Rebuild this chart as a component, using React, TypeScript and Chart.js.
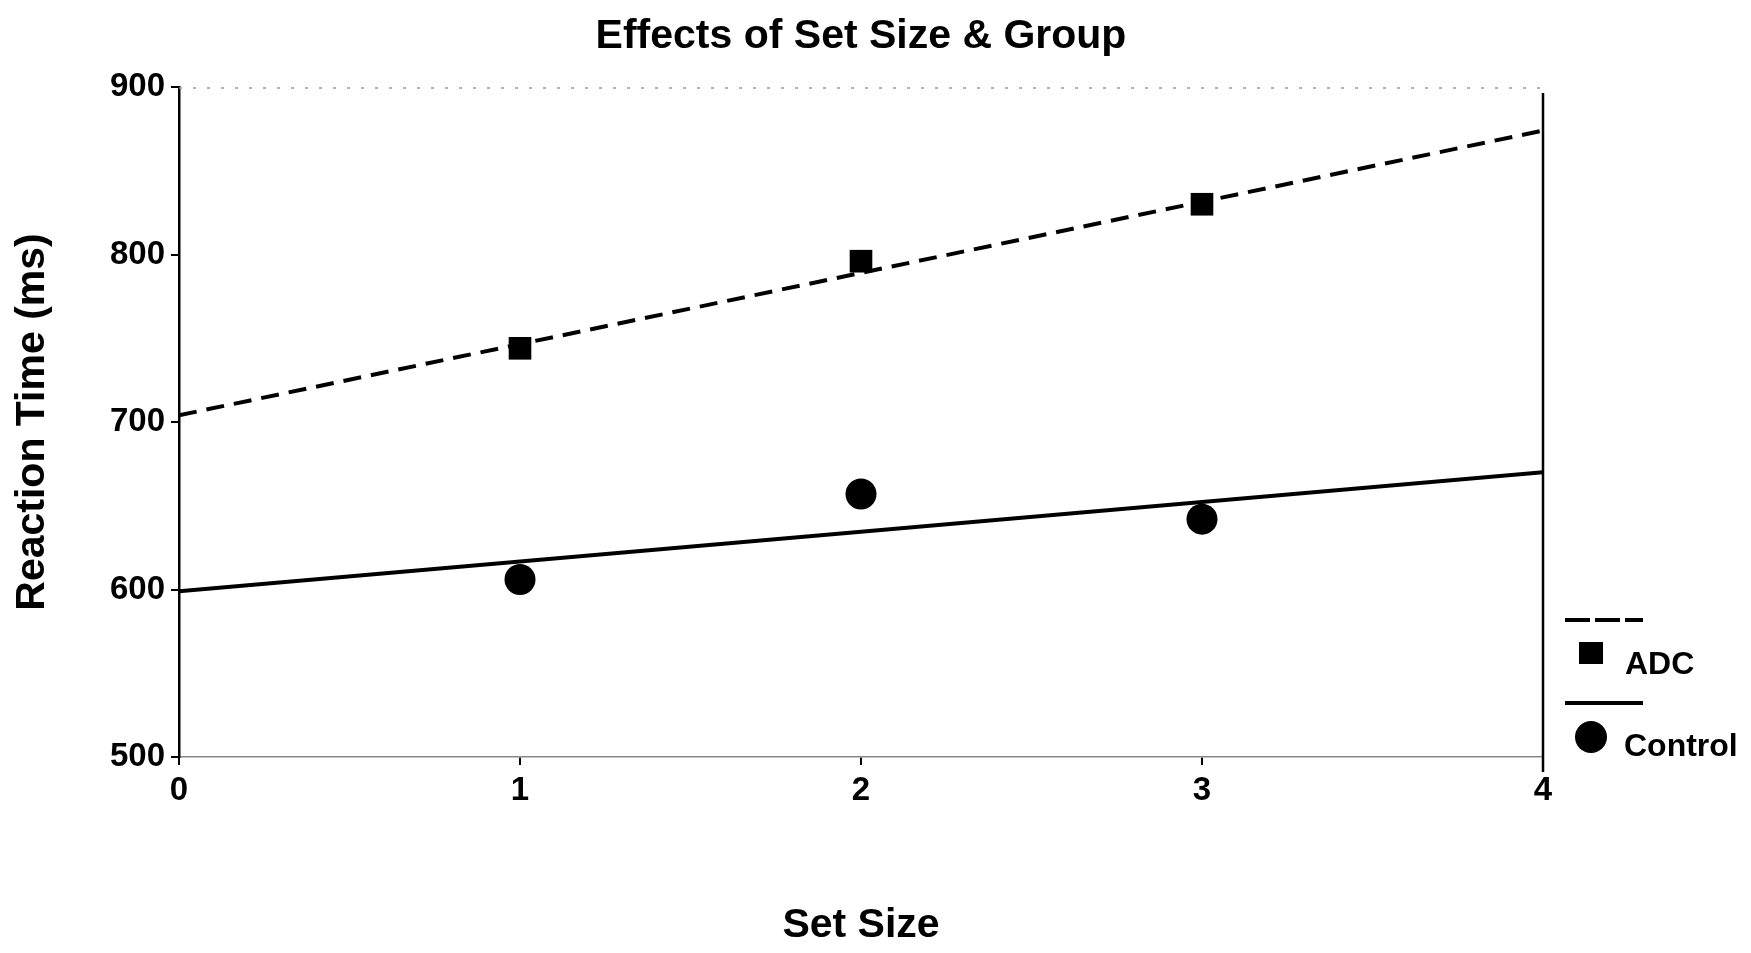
import React, { useEffect, useRef } from "react";
import { Chart, registerables } from "chart.js";

Chart.register(...registerables);

const chartTitle = "Effects of Set Size & Group";
const xTitle = "Set Size";
const yTitle = "Reaction Time (ms)";
const seriesNames = ["ADC", "Control"];
const setSizes = [1, 2, 3];
const adcRT = [744, 796, 830];
const controlRT = [606, 657, 642];
const fitX = [0, 4];
const adcFit = [704, 874];
const controlFit = [599, 670];
const xTickValues = [0, 1, 2, 3, 4];
const yTickValues = [500, 600, 700, 800, 900];

const FONT = "'Liberation Sans', Arial, Helvetica, sans-serif";

const decorPlugin = {
  id: "decor",
  afterDraw(chart: any) {
    const { ctx, chartArea } = chart;
    const { left, right, top, bottom } = chartArea;
    ctx.save();
    // title centred over the plot area
    ctx.fillStyle = "#000";
    ctx.font = `bold 41px ${FONT}`;
    ctx.textAlign = "center";
    ctx.textBaseline = "middle";
    ctx.fillText(chartTitle, (left + right) / 2, 37);

    // faint dotted top edge
    ctx.strokeStyle = "#999";
    ctx.lineWidth = 1.5;
    ctx.setLineDash([3, 11]);
    ctx.beginPath();
    ctx.moveTo(left, top + 1);
    ctx.lineTo(right, top + 1);
    ctx.stroke();
    // right frame line
    ctx.setLineDash([]);
    ctx.strokeStyle = "#000";
    ctx.lineWidth = 2.5;
    ctx.beginPath();
    ctx.moveTo(right, top + 6);
    ctx.lineTo(right, bottom + 15);
    ctx.stroke();

    // legend
    const x0 = right + 22;
    const lineLen = 78;
    ctx.lineWidth = 4;
    ctx.setLineDash([25, 5]);
    ctx.beginPath();
    ctx.moveTo(x0, bottom - 137);
    ctx.lineTo(x0 + lineLen, bottom - 137);
    ctx.stroke();
    ctx.setLineDash([]);
    ctx.fillRect(x0 + 14, bottom - 115, 24, 22);
    ctx.beginPath();
    ctx.moveTo(x0, bottom - 54);
    ctx.lineTo(x0 + lineLen, bottom - 54);
    ctx.stroke();
    ctx.beginPath();
    ctx.arc(x0 + 26, bottom - 20, 16, 0, Math.PI * 2);
    ctx.fill();
    ctx.font = `bold 32px ${FONT}`;
    ctx.textAlign = "left";
    ctx.textBaseline = "middle";
    ctx.fillText(seriesNames[0], x0 + 60, bottom - 92);
    ctx.fillText(seriesNames[1], x0 + 59, bottom - 10);
    ctx.restore();
  },
};

export default function App() {
  const canvasRef = useRef<HTMLCanvasElement | null>(null);

  useEffect(() => {
    const canvas = canvasRef.current;
    if (!canvas) return;
    const chart = new Chart(canvas, {
      type: "scatter",
      data: {
        datasets: [
          {
            label: seriesNames[0] + " points",
            data: setSizes.map((x, i) => ({ x, y: adcRT[i] })),
            pointStyle: "rect",
            pointRadius: 16,
            backgroundColor: "#000",
            borderColor: "#000",
            borderWidth: 0,
            showLine: false,
          },
          {
            label: seriesNames[1] + " points",
            data: setSizes.map((x, i) => ({ x, y: controlRT[i] })),
            pointStyle: "circle",
            pointRadius: 15.5,
            backgroundColor: "#000",
            borderColor: "#000",
            borderWidth: 0,
            showLine: false,
          },
          {
            label: seriesNames[0] + " fit",
            data: fitX.map((x, i) => ({ x, y: adcFit[i] })),
            showLine: true,
            borderColor: "#000",
            borderWidth: 4,
            borderDash: [18, 10],
            pointRadius: 0,
            fill: false,
          },
          {
            label: seriesNames[1] + " fit",
            data: fitX.map((x, i) => ({ x, y: controlFit[i] })),
            showLine: true,
            borderColor: "#000",
            borderWidth: 4,
            pointRadius: 0,
            fill: false,
          },
        ],
      },
      options: {
        animation: false,
        responsive: false,
        layout: { padding: { left: 0, right: 208, top: 87, bottom: 0 } },
        plugins: {
          legend: { display: false },
          tooltip: { enabled: false },
          title: { display: false },
        },
        scales: {
          x: {
            type: "linear",
            min: 0,
            max: 4,
            afterBuildTicks: (s: any) => {
              s.ticks = xTickValues.map((v) => ({ value: v }));
            },
            afterFit: (s: any) => {
              s.height = 196;
            },
            ticks: {
              color: "#000",
              font: { family: FONT, size: 33, weight: "bold" },
              padding: 6,
              maxRotation: 0,
            },
            grid: {
              display: true,
              drawOnChartArea: false,
              drawTicks: true,
              tickLength: 8,
              color: "#000",
              lineWidth: 2,
            },
            border: { display: true, color: "#888", width: 1.5, dash: [3, 9] },
            title: {
              display: true,
              text: xTitle,
              color: "#000",
              font: { family: FONT, size: 41, weight: "bold" },
              padding: { top: 0, bottom: 3 },
            },
          },
          y: {
            type: "linear",
            min: 500,
            max: 900,
            afterBuildTicks: (s: any) => {
              s.ticks = yTickValues.map((v) => ({ value: v }));
            },
            afterFit: (s: any) => {
              s.width = 179;
            },
            ticks: {
              color: "#000",
              font: { family: FONT, size: 33, weight: "bold" },
              padding: 6,
            },
            grid: {
              display: true,
              drawOnChartArea: false,
              drawTicks: true,
              tickLength: 8,
              color: "#000",
              lineWidth: 2,
            },
            border: { display: true, color: "#000", width: 2.5 },
            title: {
              display: true,
              text: yTitle,
              color: "#000",
              font: { family: FONT, size: 41, weight: "bold" },
              padding: { top: 8, bottom: 0 },
            },
          },
        },
      },
      plugins: [decorPlugin],
    } as any);
    return () => chart.destroy();
  }, []);

  return (
    <div
      style={{
        position: "fixed",
        left: 0,
        top: 0,
        width: 1751,
        height: 953,
        background: "#fff",
      }}
    >
      <canvas ref={canvasRef} width={1751} height={953} style={{ display: "block" }} />
    </div>
  );
}
